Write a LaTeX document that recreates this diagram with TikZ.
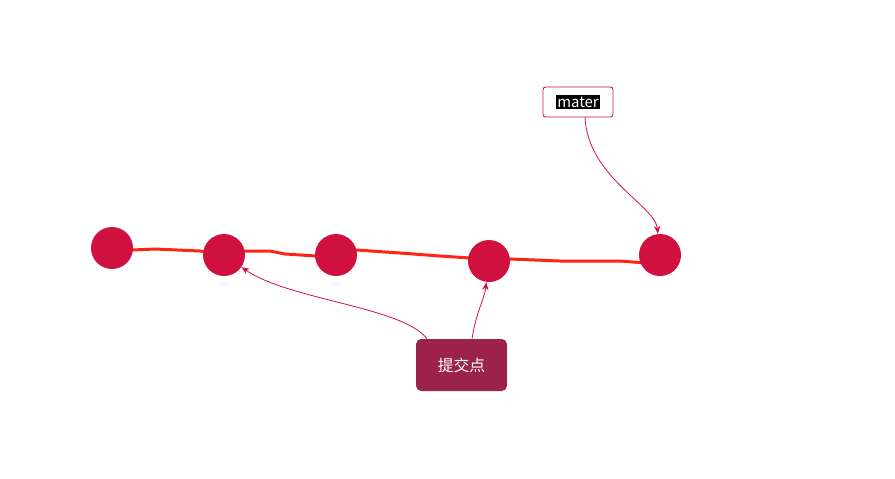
\documentclass[tikz,border=0pt]{standalone}
\usepackage{fontspec}
\setmainfont{Noto Sans CJK SC}
\newfontfamily\cjk{Noto Sans CJK SC}
\usetikzlibrary{calc,backgrounds,arrows.meta}
\definecolor{commitred}{HTML}{D0103F}
\definecolor{trailred}{HTML}{FF2312}
\definecolor{boxwine}{HTML}{9B224A}

\begin{document}
\begin{tikzpicture}[x=0.02cm,y=-0.02cm,>={Stealth[length=4.5pt,width=3.6pt]},
	commit/.style={circle,fill=commitred,minimum size=0.84cm,inner sep=0pt},
	trail/.style={trailred,line width=1.7pt,line cap=round,line join=round},
	ptr/.style={->,commitred,line width=0.45pt},
	tag/.style={draw=commitred,fill=white,rounded corners=1.5pt,line width=0.5pt,
		minimum width=1.4cm,minimum height=0.6cm,inner sep=0pt,font=\fontsize{8.5}{10}\selectfont},
	label/.style={fill=boxwine,rounded corners=3pt,text=white,
		minimum width=1.82cm,minimum height=1.04cm,inner sep=0pt,font=\cjk\fontsize{9}{11}\selectfont}]
\useasboundingbox (0,0) rectangle (895,478);

%========================================
% Commits
%========================================
\node[commit] (c1) at (112,248) {};
\node[commit] (c2) at (224,255) {};
\node[commit] (c3) at (336,255) {};
\node[commit] (c4) at (489,261) {};
\node[commit] (c5) at (660,255) {};
\coordinate (tip) at (645,263);

% Branch line (hand drawn)
\begin{pgfonlayer}{background}
\draw[trail] (c1.center) -- (132,250) -- (155,249) -- (200,251) -- (c2.center)
	-- (245,251) -- (270,251) -- (285,254) -- (316,256) -- (c3.center)
	-- (357,250) -- (400,253) -- (440,256) -- (470,258) -- (c4.center)
	-- (510,259) -- (560,261) -- (620,261) -- (tip);
\end{pgfonlayer}

%========================================
% Branch tag
%========================================
\node[tag] (mater) at (578,102)
{\setlength{\fboxsep}{0.8pt}\colorbox{black}{\textcolor{white}{mater}}};
\draw[ptr] ($(mater.south)+(7,0)$) .. controls +(3,60) and +(-5,-50) .. (c5);

%========================================
% Commit label
%========================================
\node[label] (point) at (461.5,365) {提交点};
\draw[ptr] ($(point.north)+(-34.5,0)$) .. controls +(-25,-32) and +(65,45) .. (c2);
\draw[ptr] ($(point.north)+(10.5,0)$) .. controls +(5,-30) and +(-5,40) .. (c4);
\end{tikzpicture}
\end{document}
